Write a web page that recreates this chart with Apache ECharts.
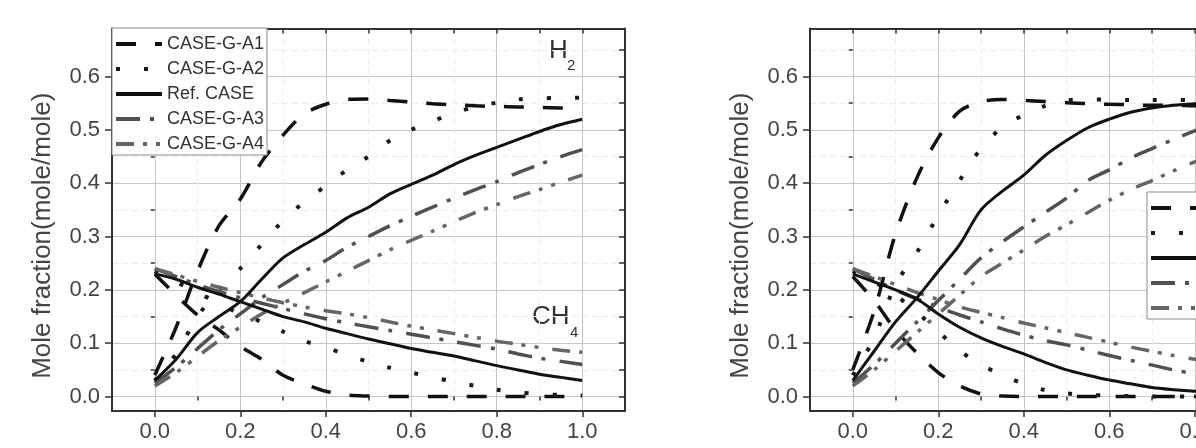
<!DOCTYPE html>
<html>
<head>
<meta charset="utf-8">
<script src="https://cdn.jsdelivr.net/npm/echarts@6/dist/echarts.min.js"></script>
<style>
html,body{margin:0;padding:0;background:#fff}
#chart{width:1196px;height:448px}
</style>
</head>
<body>
<div id="chart"></div>
<script>
// x positions (reactor length fraction) shared by every curve
var xs = [0, 0.05, 0.1, 0.15, 0.2, 0.25, 0.3, 0.35, 0.4, 0.45, 0.5, 0.55, 0.6, 0.65, 0.7, 0.75, 0.8, 0.85, 0.9, 0.95, 1.0];

var caseNames = ['CASE-G-A1', 'CASE-G-A2', 'Ref. CASE', 'CASE-G-A3', 'CASE-G-A4'];

// left panel, H2 (rising) and CH4 (falling)
var leftH2_A1  = [0.04, 0.13, 0.235, 0.32, 0.37, 0.44, 0.49, 0.53, 0.548, 0.557, 0.558, 0.555, 0.552, 0.549, 0.547, 0.545, 0.544, 0.543, 0.542, 0.541, 0.54];
var leftH2_A2  = [0.03, 0.08, 0.15, 0.2, 0.24, 0.285, 0.33, 0.365, 0.395, 0.425, 0.45, 0.48, 0.5, 0.516, 0.532, 0.543, 0.551, 0.557, 0.559, 0.56, 0.56];
var leftH2_Ref = [0.03, 0.07, 0.12, 0.15, 0.178, 0.22, 0.26, 0.285, 0.308, 0.335, 0.355, 0.38, 0.398, 0.415, 0.435, 0.452, 0.467, 0.482, 0.497, 0.51, 0.52];
var leftH2_A3  = [0.025, 0.055, 0.09, 0.125, 0.155, 0.185, 0.21, 0.235, 0.255, 0.28, 0.3, 0.32, 0.338, 0.355, 0.372, 0.388, 0.403, 0.42, 0.435, 0.45, 0.463];
var leftH2_A4  = [0.02, 0.045, 0.075, 0.105, 0.13, 0.155, 0.175, 0.195, 0.215, 0.235, 0.255, 0.275, 0.293, 0.31, 0.328, 0.345, 0.36, 0.375, 0.388, 0.402, 0.415];

var leftCH4_A1  = [0.23, 0.19, 0.153, 0.125, 0.094, 0.07, 0.04, 0.024, 0.01, 0.003, 0.001, 0, 0, 0, 0, 0, 0, 0, 0, 0, 0];
var leftCH4_A2  = [0.235, 0.215, 0.195, 0.175, 0.155, 0.14, 0.122, 0.104, 0.092, 0.078, 0.065, 0.054, 0.045, 0.036, 0.028, 0.02, 0.013, 0.008, 0.005, 0.003, 0.002];
var leftCH4_Ref = [0.23, 0.22, 0.205, 0.192, 0.178, 0.164, 0.15, 0.14, 0.128, 0.118, 0.108, 0.099, 0.09, 0.083, 0.076, 0.067, 0.058, 0.05, 0.042, 0.036, 0.03];
var leftCH4_A3  = [0.24, 0.225, 0.21, 0.197, 0.185, 0.175, 0.165, 0.155, 0.146, 0.138, 0.131, 0.124, 0.117, 0.11, 0.103, 0.096, 0.089, 0.08, 0.072, 0.066, 0.06];
var leftCH4_A4  = [0.24, 0.228, 0.216, 0.205, 0.195, 0.185, 0.176, 0.168, 0.161, 0.155, 0.148, 0.14, 0.132, 0.125, 0.118, 0.111, 0.104, 0.098, 0.092, 0.087, 0.083];

// right panel
var rightH2_A1  = [0.05, 0.16, 0.305, 0.41, 0.485, 0.535, 0.553, 0.557, 0.555, 0.553, 0.551, 0.549, 0.548, 0.547, 0.546, 0.546, 0.545, 0.545, 0.545, 0.545, 0.545];
var rightH2_A2  = [0.04, 0.11, 0.21, 0.27, 0.34, 0.405, 0.465, 0.505, 0.528, 0.545, 0.555, 0.557, 0.557, 0.556, 0.556, 0.556, 0.556, 0.556, 0.556, 0.556, 0.556];
var rightH2_Ref = [0.03, 0.085, 0.14, 0.185, 0.235, 0.285, 0.35, 0.385, 0.415, 0.452, 0.48, 0.504, 0.52, 0.533, 0.541, 0.546, 0.549, 0.55, 0.55, 0.55, 0.55];
var rightH2_A3  = [0.025, 0.06, 0.1, 0.14, 0.18, 0.22, 0.26, 0.29, 0.318, 0.345, 0.372, 0.405, 0.425, 0.447, 0.465, 0.482, 0.498, 0.512, 0.525, 0.537, 0.548];
var rightH2_A4  = [0.02, 0.05, 0.085, 0.12, 0.155, 0.19, 0.225, 0.25, 0.275, 0.3, 0.322, 0.345, 0.368, 0.388, 0.405, 0.423, 0.44, 0.455, 0.47, 0.483, 0.495];

var rightCH4_A1  = [0.225, 0.18, 0.125, 0.082, 0.045, 0.02, 0.005, 0.001, 0, 0, 0, 0, 0, 0, 0, 0, 0, 0, 0, 0, 0];
var rightCH4_A2  = [0.235, 0.215, 0.19, 0.158, 0.122, 0.086, 0.06, 0.04, 0.024, 0.012, 0.006, 0.003, 0.002, 0.001, 0, 0, 0, 0, 0, 0, 0];
var rightCH4_Ref = [0.23, 0.215, 0.2, 0.183, 0.155, 0.13, 0.11, 0.094, 0.08, 0.064, 0.05, 0.04, 0.031, 0.024, 0.017, 0.013, 0.01, 0.008, 0.007, 0.006, 0.005];
var rightCH4_A3  = [0.24, 0.22, 0.2, 0.183, 0.168, 0.153, 0.14, 0.127, 0.115, 0.105, 0.097, 0.087, 0.077, 0.068, 0.059, 0.05, 0.043, 0.037, 0.031, 0.026, 0.022];
var rightCH4_A4  = [0.24, 0.225, 0.21, 0.195, 0.182, 0.168, 0.158, 0.148, 0.138, 0.129, 0.12, 0.111, 0.102, 0.093, 0.085, 0.077, 0.07, 0.063, 0.057, 0.051, 0.045];

// tick labels
var xMajor = [0, 0.2, 0.4, 0.6, 0.8, 1.0];
var xMinor = [0.1, 0.3, 0.5, 0.7, 0.9];
var xAll = [0, 0.1, 0.2, 0.3, 0.4, 0.5, 0.6, 0.7, 0.8, 0.9, 1.0];
var yMajor = [0, 0.1, 0.2, 0.3, 0.4, 0.5, 0.6];
var yMinor = [0.05, 0.15, 0.25, 0.35, 0.45, 0.55, 0.65];
var yAll = [0, 0.05, 0.1, 0.15, 0.2, 0.25, 0.3, 0.35, 0.4, 0.45, 0.5, 0.55, 0.6, 0.65];

var font = 'Liberation Sans';
var axisColor = '#333';

var styles = {
    'CASE-G-A1': {color: '#111', width: 3.5, type: [20, 19]},
    'CASE-G-A2': {color: '#1a1a1a', width: 4, type: [4, 24]},
    'Ref. CASE': {color: '#111', width: 3, type: 'solid'},
    'CASE-G-A3': {color: '#505050', width: 3.5, type: [24, 10, 4, 14]},
    'CASE-G-A4': {color: '#666', width: 3.5, type: [18, 9, 4, 9, 4, 14]}
};

function xAxes(g) {
    return [
        {gridIndex: g, type: 'value', min: -0.1, max: 1.1, position: 'bottom',
            axisLine: {show: true, onZero: false, lineStyle: {color: axisColor, width: 2}},
            axisTick: {show: true, customValues: xMajor, length: 6, lineStyle: {color: axisColor, width: 1.5}},
            axisLabel: {customValues: xMajor, formatter: function (v) { return v.toFixed(1); },
                fontSize: 22, color: '#444', fontFamily: font, margin: 10},
            splitLine: {show: true, lineStyle: {color: '#c6c6c6', width: 1}}},
        {gridIndex: g, type: 'value', min: -0.1, max: 1.1, position: 'bottom',
            axisLine: {show: false},
            axisTick: {show: true, customValues: xMinor, length: 4, lineStyle: {color: axisColor, width: 1.5}},
            axisLabel: {show: false},
            splitLine: {show: true, lineStyle: {color: '#ececec', width: 1, type: [6, 4]}}},
        {gridIndex: g, type: 'value', min: -0.1, max: 1.1, position: 'top',
            axisLine: {show: true, onZero: false, lineStyle: {color: axisColor, width: 2}},
            axisTick: {show: true, inside: true, customValues: xAll, length: 5, lineStyle: {color: axisColor, width: 1.5}},
            axisLabel: {show: false},
            splitLine: {show: false}}
    ];
}

function yAxes(g) {
    return [
        {gridIndex: g, type: 'value', min: -0.027, max: 0.69, position: 'left',
            name: 'Mole fraction(mole/mole)', nameLocation: 'middle', nameGap: 56,
            nameTextStyle: {fontSize: 26, color: '#444', fontFamily: font, padding: [0, 32, 0, 0]},
            axisLine: {show: true, onZero: false, lineStyle: {color: axisColor, width: 2}},
            axisTick: {show: true, customValues: yMajor, length: 7, lineStyle: {color: axisColor, width: 1.5}},
            axisLabel: {customValues: yMajor, formatter: function (v) { return v.toFixed(1); },
                fontSize: 22, color: '#444', fontFamily: font, margin: 12},
            splitLine: {show: true, lineStyle: {color: '#c6c6c6', width: 1}}},
        {gridIndex: g, type: 'value', min: -0.027, max: 0.69, position: 'left',
            axisLine: {show: false},
            axisTick: {show: true, customValues: yMinor, length: 4, lineStyle: {color: axisColor, width: 1.5}},
            axisLabel: {show: false},
            splitLine: {show: true, lineStyle: {color: '#ececec', width: 1, type: [6, 4]}}},
        {gridIndex: g, type: 'value', min: -0.027, max: 0.69, position: 'right',
            axisLine: {show: true, onZero: false, lineStyle: {color: axisColor, width: 2}},
            axisTick: {show: true, inside: true, customValues: yAll, length: 6, lineStyle: {color: axisColor, width: 1.5}},
            axisLabel: {show: false},
            splitLine: {show: false}}
    ];
}

function makeSeries(name, ys, axisIdx) {
    var s = styles[name];
    return {
        name: name,
        type: 'line',
        xAxisIndex: axisIdx,
        yAxisIndex: axisIdx,
        data: xs.map(function (x, i) { return [x, ys[i]]; }),
        smooth: 0.3,
        symbol: 'none',
        showSymbol: false,
        silent: true,
        z: name === 'Ref. CASE' ? 3 : 2,
        lineStyle: {color: s.color, width: s.width, type: s.type},
        itemStyle: {color: s.color}
    };
}

var leftSets = [
    [leftH2_A1, leftCH4_A1], [leftH2_A2, leftCH4_A2], [leftH2_Ref, leftCH4_Ref],
    [leftH2_A3, leftCH4_A3], [leftH2_A4, leftCH4_A4]
];
var rightSets = [
    [rightH2_A1, rightCH4_A1], [rightH2_A2, rightCH4_A2], [rightH2_Ref, rightCH4_Ref],
    [rightH2_A3, rightCH4_A3], [rightH2_A4, rightCH4_A4]
];

var series = [];
caseNames.forEach(function (n, i) {
    series.push(makeSeries(n, leftSets[i][0], 0));
    series.push(makeSeries(n, leftSets[i][1], 0));
});
caseNames.forEach(function (n, i) {
    series.push(makeSeries(n, rightSets[i][0], 3));
    series.push(makeSeries(n, rightSets[i][1], 3));
});

function legendAt(left, top) {
    return {
        orient: 'vertical', left: left, top: top,
        padding: [7, 3, 2, 2], itemGap: 7, itemWidth: 46, itemHeight: 14,
        backgroundColor: '#fff', borderColor: '#8a8a8a', borderWidth: 1,
        selectedMode: false,
        itemStyle: {opacity: 0},
        lineStyle: {width: 4},
        textStyle: {fontSize: 18, color: '#333', fontFamily: font, lineHeight: 16},
        data: caseNames
    };
}

var chart = echarts.init(document.getElementById('chart'), null, {renderer: 'canvas'});
chart.setOption({
    animation: false,
    backgroundColor: '#fff',
    grid: [
        {left: 112, top: 28.5, width: 513, height: 382.5, outerBoundsMode: 'none', containLabel: false},
        {left: 810, top: 28.5, width: 513, height: 382.5, outerBoundsMode: 'none', containLabel: false}
    ],
    xAxis: xAxes(0).concat(xAxes(1)),
    yAxis: yAxes(0).concat(yAxes(1)),
    legend: [legendAt(112, 28), legendAt(1147, 192)],
    graphic: [
        {type: 'text', x: 549, y: 51, style: {text: 'H', font: '26px "Liberation Sans"', fill: '#333', verticalAlign: 'middle'}},
        {type: 'text', x: 567, y: 66, style: {text: '2', font: '15px "Liberation Sans"', fill: '#333', verticalAlign: 'middle'}},
        {type: 'text', x: 532, y: 317, style: {text: 'CH', font: '26px "Liberation Sans"', fill: '#333', verticalAlign: 'middle'}},
        {type: 'text', x: 570, y: 333, style: {text: '4', font: '15px "Liberation Sans"', fill: '#333', verticalAlign: 'middle'}}
    ],
    series: series
});
</script>
</body>
</html>
